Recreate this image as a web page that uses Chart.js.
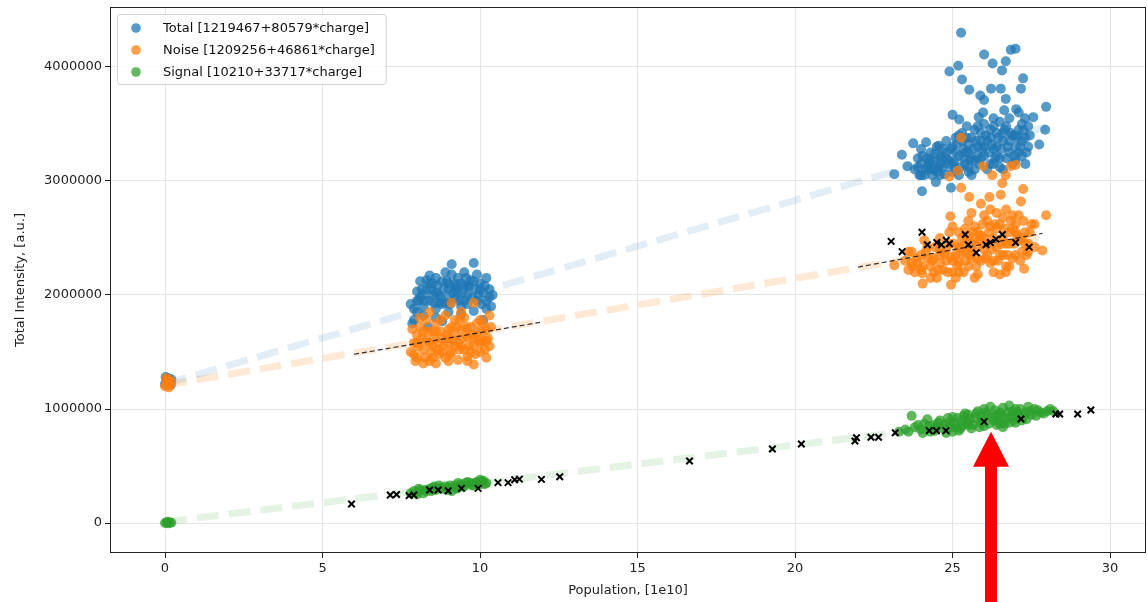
<!DOCTYPE html>
<html>
<head>
<meta charset="utf-8">
<script src="https://cdn.jsdelivr.net/npm/chart.js@4.4.1/dist/chart.umd.min.js"></script>
<style>
  html, body { margin: 0; padding: 0; background: #fff; }
</style>
</head>
<body>
<canvas id="canvas" width="1148" height="602"></canvas>
<script>
//textos de la leyenda (coeficientes del ajuste)
const legendLabels = [
    "Total [1219467+80579*charge]",
    "Noise [1209256+46861*charge]",
    "Signal [10210+33717*charge]"
];
const xTicks = [0, 5, 10, 15, 20, 25, 30];
const yTicks = [0, 1000000, 2000000, 3000000, 4000000];

//puntos [population, intensidad]
const totalPts = [
    [0,1.22e6],[0.05,1.25e6],[0.1,1.27e6],[0.15,1.23e6],[0.2,1.26e6],[0.02,1.28e6],[0.18,1.21e6],
    [7.9,1.78e6],[8.0,1.85e6],[7.8,1.92e6],[8.1,1.98e6],[8.2,1.9e6],[8.3,2.05e6],[8.4,1.95e6],[8.5,2.1e6],
    [8.6,1.88e6],[8.7,2.0e6],[8.8,2.12e6],[8.9,1.93e6],[9.0,2.05e6],[9.1,2.27e6],[9.2,1.97e6],[9.3,2.15e6],
    [9.4,1.9e6],[9.5,2.08e6],[9.6,2.0e6],[9.7,2.13e6],[9.8,2.28e6],[9.9,1.95e6],[10.0,2.1e6],[10.1,2.02e6],
    [10.2,1.88e6],[10.3,1.98e6],[8.2,1.82e6],[8.6,1.8e6],[9.0,1.85e6],[9.4,1.83e6],[9.8,1.86e6],[10.1,1.78e6],
    [8.0,2.03e6],[8.5,2.0e6],[9.2,2.1e6],[9.6,1.92e6],[10.4,2.0e6],[7.85,1.75e6],[8.35,1.72e6],[8.8,1.77e6],
    [9.3,2.02e6],[8.1,2.12e6],[9.0,1.98e6],[9.9,2.18e6],[10.2,2.15e6],[8.4,2.17e6],[8.7,1.93e6],
    [7.9,1.88e6],[8.05,1.95e6],[8.15,2.05e6],[8.25,1.95e6],[8.45,2.05e6],[8.55,1.93e6],[8.65,2.08e6],[8.75,1.98e6],
    [8.85,2.05e6],[8.95,2.12e6],[9.05,1.92e6],[9.15,2.02e6],[9.25,2.08e6],[9.35,1.95e6],[9.45,2.02e6],[9.55,2.15e6],
    [9.65,2.07e6],[9.75,1.98e6],[9.85,2.05e6],[9.95,2.0e6],[10.05,1.92e6],[10.15,2.08e6],[10.3,2.05e6],[8.3,2.13e6],
    [9.1,2.18e6],[9.5,1.95e6],[10.35,1.9e6],
    [8.0,1.95e6],[8.2,2.0e6],[8.4,2.1e6],[8.6,2.02e6],[8.8,1.92e6],[9.0,2.1e6],[9.2,2.05e6],[9.4,2.1e6],
    [9.6,2.08e6],[9.8,2.12e6],[10.0,2.05e6],[10.2,1.95e6],[8.9,2.2e6],[9.5,2.2e6],[8.6,2.15e6],
    [25.27,4.3e6],[26.0,4.11e6],[26.85,4.15e6],[27.0,4.16e6],[26.27,4.03e6],[26.69,4.05e6],[24.9,3.96e6],
    [25.18,4.01e6],[26.57,3.97e6],[25.3,3.89e6],[27.24,3.9e6],[25.53,3.8e6],[26.22,3.81e6],[26.53,3.81e6],
    [27.17,3.81e6],[25.88,3.75e6],[26.0,3.71e6],[26.69,3.72e6],[27.02,3.63e6],[27.97,3.65e6],[25.97,3.6e6],
    [25.0,3.58e6],[26.64,3.62e6],[27.56,3.56e6],[25.83,3.56e6],[25.21,3.54e6],[25.45,3.48e6],[27.94,3.45e6],
    [27.75,3.32e6],[23.75,3.33e6],[23.39,3.23e6],[23.15,3.06e6],[23.57,3.13e6],[24.03,2.91e6],[24.95,2.94e6],
    [24.16,3.34e6],[24.56,3.31e6],[27.31,3.15e6],[25.51,3.08e6],[24.47,2.99e6],
    [23.8,3.1e6],[24.0,3.15e6],[24.1,3.05e6],[24.2,3.2e6],[24.3,3.1e6],[24.4,3.17e6],[24.5,3.08e6],[24.6,3.22e6],
    [23.9,3.2e6],[24.3,3.25e6],[24.7,3.12e6],[24.8,3.25e6],[24.9,3.18e6],[25.0,3.3e6],[25.1,3.1e6],[25.2,3.22e6],
    [25.3,3.35e6],[25.4,3.15e6],[24.8,3.35e6],[25.0,3.08e6],[25.2,3.4e6],[25.5,3.25e6],[25.6,3.38e6],[25.7,3.18e6],
    [25.8,3.3e6],[25.9,3.42e6],[26.0,3.22e6],[26.1,3.35e6],[26.2,3.15e6],[25.5,3.12e6],[25.7,3.45e6],[26.0,3.5e6],
    [26.3,3.28e6],[26.4,3.42e6],[26.5,3.2e6],[26.6,3.35e6],[26.7,3.48e6],[26.8,3.25e6],[26.9,3.4e6],[27.0,3.3e6],
    [27.1,3.45e6],[27.2,3.22e6],[27.3,3.38e6],[26.5,3.52e6],[26.8,3.55e6],[26.3,3.15e6],[27.0,3.18e6],[26.6,3.1e6],
    [27.4,3.3e6],[25.35,3.28e6],[25.9,3.2e6],[26.4,3.3e6],[24.6,3.15e6],[25.1,3.25e6],[26.2,3.45e6],[27.2,3.5e6],
    [23.9,3.12e6],[24.05,3.22e6],[24.15,3.1e6],[24.25,3.16e6],[24.35,3.05e6],[24.45,3.24e6],[24.55,3.12e6],[24.65,3.2e6],
    [24.75,3.06e6],[24.85,3.15e6],[24.95,3.28e6],[25.05,3.17e6],[25.15,3.33e6],[25.25,3.12e6],[25.35,3.2e6],[25.45,3.38e6],
    [25.55,3.18e6],[25.65,3.28e6],[25.75,3.35e6],[25.85,3.15e6],[25.95,3.28e6],[26.05,3.4e6],[26.15,3.25e6],[26.25,3.32e6],
    [26.35,3.2e6],[26.45,3.38e6],[26.55,3.28e6],[26.65,3.45e6],[26.75,3.3e6],[26.85,3.42e6],[26.95,3.22e6],[27.05,3.38e6],
    [27.15,3.3e6],[27.25,3.44e6],[27.35,3.25e6],[27.45,3.4e6],[25.6,3.05e6],[26.1,3.1e6],[26.9,3.15e6],[25.3,3.42e6],
    [25.8,3.48e6],[26.3,3.55e6],[27.1,3.6e6],[24.5,3.3e6],[24.0,3.28e6],
    [24.0,3.05e6],[24.2,3.12e6],[24.4,3.1e6],[24.6,3.05e6],[24.8,3.2e6],[25.0,3.15e6],[25.2,3.05e6],[25.4,3.25e6],
    [25.6,3.2e6],[25.8,3.22e6],[26.0,3.3e6],[26.2,3.38e6],[26.4,3.22e6],[26.6,3.42e6],[26.8,3.35e6],[27.0,3.4e6],
    [27.2,3.35e6],[27.4,3.48e6],[25.1,3.38e6],[25.5,3.32e6],[25.9,3.35e6],[26.3,3.48e6],[26.7,3.2e6],[27.1,3.25e6],
    [24.3,3.18e6],[24.7,3.28e6],[25.7,3.1e6],[26.5,3.12e6],[23.95,3.05e6],[27.3,3.55e6]
];
const noisePts = [
    [0,1.2e6],[0.05,1.23e6],[0.1,1.26e6],[0.15,1.21e6],[0.2,1.24e6],[0.03,1.27e6],[0.12,1.19e6],
    [7.8,1.5e6],[7.9,1.58e6],[8.0,1.45e6],[8.0,1.65e6],[8.1,1.72e6],[8.2,1.52e6],[8.3,1.6e6],[8.3,1.78e6],
    [8.4,1.42e6],[8.5,1.55e6],[8.5,1.68e6],[8.6,1.75e6],[8.7,1.48e6],[8.8,1.62e6],[8.9,1.82e6],[8.9,1.45e6],
    [9.0,1.57e6],[9.0,1.7e6],[9.1,1.93e6],[9.1,1.5e6],[9.2,1.65e6],[9.2,1.78e6],[9.3,1.43e6],[9.3,1.58e6],
    [9.4,1.7e6],[9.5,1.52e6],[9.5,1.8e6],[9.6,1.63e6],[9.6,1.46e6],[9.7,1.72e6],[9.8,1.93e6],[9.8,1.39e6],
    [9.8,1.56e6],[9.9,1.67e6],[10.0,1.5e6],[10.0,1.78e6],[10.1,1.6e6],[10.2,1.45e6],[10.2,1.7e6],[10.3,1.55e6],
    [8.2,1.4e6],[8.6,1.4e6],[7.85,1.7e6],[8.4,1.85e6],[9.4,1.85e6],[10.3,1.82e6],[8.7,1.58e6],[9.0,1.42e6],
    [7.9,1.48e6],[8.05,1.55e6],[8.15,1.62e6],[8.25,1.45e6],[8.35,1.68e6],[8.45,1.5e6],[8.55,1.62e6],[8.65,1.52e6],
    [8.75,1.68e6],[8.85,1.55e6],[8.95,1.65e6],[9.05,1.48e6],[9.15,1.6e6],[9.25,1.72e6],[9.35,1.52e6],[9.45,1.62e6],
    [9.55,1.72e6],[9.65,1.55e6],[9.75,1.65e6],[9.85,1.48e6],[9.95,1.6e6],[10.05,1.68e6],[10.15,1.52e6],[10.25,1.62e6],
    [8.1,1.8e6],[8.75,1.78e6],[9.35,1.78e6],[9.9,1.75e6],[10.35,1.72e6],[7.95,1.42e6],[9.6,1.42e6],
    [8.0,1.58e6],[8.2,1.68e6],[8.4,1.58e6],[8.6,1.68e6],[8.8,1.5e6],[9.0,1.62e6],[9.2,1.55e6],[9.4,1.55e6],
    [9.6,1.7e6],[9.8,1.62e6],[10.0,1.58e6],[10.2,1.6e6],[8.5,1.45e6],[9.1,1.72e6],[9.7,1.5e6],[10.1,1.75e6],
    [25.27,3.38e6],[25.16,3.09e6],[24.9,3.04e6],[25.97,3.13e6],[26.26,3.05e6],[26.85,3.13e6],[27.0,3.14e6],
    [26.69,3.05e6],[26.58,2.98e6],[27.24,2.93e6],[25.27,2.94e6],
    [25.53,2.86e6],[26.17,2.86e6],[26.53,2.88e6],[25.9,2.8e6],[27.17,2.82e6],[27.97,2.7e6],[27.6,2.62e6],
    [24.93,2.69e6],[24.95,2.09e6],[24.05,2.1e6],[23.15,2.26e6],[23.73,2.25e6],[24.03,2.19e6],[26.69,2.2e6],
    [27.27,2.23e6],[27.85,2.39e6],[27.6,2.42e6],
    [23.5,2.3e6],[23.7,2.38e6],[23.9,2.28e6],[24.0,2.35e6],[24.2,2.42e6],[24.3,2.25e6],[24.4,2.32e6],[24.6,2.4e6],
    [24.7,2.22e6],[24.8,2.3e6],[24.9,2.45e6],[25.0,2.2e6],[25.1,2.35e6],[25.2,2.28e6],[25.3,2.5e6],[25.4,2.38e6],
    [25.5,2.25e6],[25.6,2.45e6],[25.7,2.6e6],[25.8,2.32e6],[25.9,2.52e6],[26.0,2.4e6],[26.1,2.65e6],[26.2,2.28e6],
    [26.3,2.5e6],[26.4,2.58e6],[26.5,2.35e6],[26.6,2.68e6],[26.7,2.45e6],[26.8,2.55e6],[26.9,2.32e6],[27.0,2.62e6],
    [27.1,2.48e6],[27.2,2.38e6],[27.3,2.55e6],[25.0,2.6e6],[25.5,2.65e6],[26.0,2.7e6],[26.4,2.72e6],[25.8,2.18e6],
    [26.3,2.2e6],[24.5,2.15e6],[23.8,2.2e6],[27.4,2.45e6],[26.9,2.7e6],[25.2,2.42e6],[24.1,2.48e6],[25.6,2.32e6],
    [26.8,2.25e6],[25.4,2.58e6],[26.1,2.45e6],[26.6,2.5e6],[24.6,2.28e6],[25.8,2.42e6],[27.0,2.35e6],
    [23.6,2.22e6],[23.85,2.32e6],[24.05,2.25e6],[24.15,2.38e6],[24.35,2.3e6],[24.45,2.42e6],[24.55,2.22e6],[24.75,2.36e6],
    [24.85,2.2e6],[24.95,2.33e6],[25.05,2.45e6],[25.15,2.26e6],[25.25,2.36e6],[25.35,2.2e6],[25.45,2.48e6],[25.55,2.35e6],
    [25.65,2.55e6],[25.75,2.25e6],[25.85,2.48e6],[25.95,2.62e6],[26.05,2.32e6],[26.15,2.55e6],[26.25,2.4e6],[26.35,2.62e6],
    [26.45,2.3e6],[26.55,2.45e6],[26.65,2.58e6],[26.75,2.35e6],[26.85,2.65e6],[26.95,2.45e6],[27.05,2.52e6],[27.15,2.3e6],
    [27.25,2.65e6],[27.35,2.35e6],[27.45,2.55e6],[25.2,2.55e6],[25.6,2.72e6],[26.2,2.75e6],[26.7,2.75e6],[25.1,2.15e6],
    [25.7,2.15e6],[26.5,2.18e6],[24.3,2.15e6],[27.1,2.7e6],[27.5,2.62e6],[24.6,2.5e6],[23.6,2.38e6],
    [23.7,2.28e6],[24.0,2.22e6],[24.2,2.32e6],[24.4,2.2e6],[24.6,2.35e6],[24.8,2.4e6],[25.0,2.3e6],[25.2,2.2e6],
    [25.4,2.3e6],[25.6,2.4e6],[25.8,2.55e6],[26.0,2.5e6],[26.2,2.6e6],[26.4,2.42e6],[26.6,2.35e6],[26.8,2.45e6],
    [27.0,2.55e6],[27.2,2.5e6],[27.4,2.38e6],[25.3,2.42e6],[25.7,2.48e6],[26.1,2.35e6],[26.5,2.62e6],[26.9,2.58e6],
    [27.3,2.45e6],[25.9,2.3e6],[26.7,2.25e6],[24.9,2.55e6],[25.5,2.52e6],[26.3,2.3e6]
];
const signalPts = [
    [0,0],[0.05,0.005e6],[0.1,-0.003e6],[0.15,0.004e6],[0.2,0.002e6],[0.08,0.01e6],
    [7.8,0.26e6],[8.0,0.27e6],[8.1,0.29e6],[8.3,0.28e6],[8.4,0.3e6],[8.5,0.31e6],[8.6,0.29e6],[8.8,0.3e6],
    [8.9,0.32e6],[9.0,0.31e6],[9.2,0.33e6],[9.3,0.31e6],[9.4,0.34e6],[9.5,0.32e6],[9.7,0.35e6],[9.8,0.33e6],
    [9.9,0.36e6],[10.0,0.34e6],[10.1,0.37e6],[10.2,0.35e6],[8.2,0.26e6],[8.7,0.33e6],[9.1,0.28e6],[9.6,0.36e6],
    [10.0,0.38e6],[8.0,0.25e6],[9.3,0.35e6],
    [7.9,0.28e6],[8.05,0.3e6],[8.25,0.29e6],[8.45,0.28e6],[8.55,0.32e6],[8.75,0.31e6],[8.95,0.29e6],[9.05,0.33e6],
    [9.25,0.3e6],[9.45,0.32e6],[9.55,0.35e6],[9.75,0.33e6],[9.85,0.35e6],[10.05,0.36e6],[10.15,0.34e6],
    [23.3,0.8e6],[23.5,0.82e6],[23.7,0.94e6],[23.8,0.84e6],[24.0,0.82e6],[24.1,0.87e6],[24.3,0.8e6],[24.4,0.86e6],
    [24.6,0.9e6],[24.7,0.83e6],[24.8,0.79e6],[24.9,0.88e6],[25.0,0.93e6],[25.1,0.84e6],[25.2,0.81e6],[25.3,0.9e6],
    [25.4,0.96e6],[25.5,0.86e6],[25.6,0.83e6],[25.7,0.92e6],[25.8,0.98e6],[25.9,0.88e6],[26.0,0.85e6],[26.1,0.95e6],
    [26.2,1.02e6],[26.3,0.9e6],[26.4,0.86e6],[26.5,0.97e6],[26.6,1.01e6],[26.7,0.92e6],[26.8,0.88e6],[26.9,0.98e6],
    [27.0,1.0e6],[27.1,0.93e6],[27.2,0.9e6],[27.3,0.97e6],[27.5,0.95e6],[27.6,1.0e6],[27.8,0.97e6],[28.0,0.98e6],
    [28.1,1.0e6],[26.0,1.0e6],[25.5,0.95e6],[24.5,0.84e6],[27.4,1.02e6],[26.8,1.03e6],[24.2,0.91e6],[25.0,0.8e6],
    [26.5,0.87e6],[25.3,0.85e6],[25.9,0.93e6],[26.4,0.95e6],[27.0,0.94e6],
    [23.6,0.8e6],[23.9,0.86e6],[24.05,0.79e6],[24.25,0.85e6],[24.45,0.81e6],[24.55,0.88e6],[24.75,0.86e6],[24.85,0.92e6],
    [24.95,0.84e6],[25.05,0.88e6],[25.15,0.92e6],[25.25,0.83e6],[25.35,0.94e6],[25.45,0.88e6],[25.55,0.91e6],[25.65,0.86e6],
    [25.75,0.96e6],[25.85,0.84e6],[25.95,0.9e6],[26.05,0.97e6],[26.15,0.87e6],[26.25,0.93e6],[26.35,0.99e6],[26.45,0.9e6],
    [26.55,0.94e6],[26.65,0.87e6],[26.75,0.97e6],[26.85,0.93e6],[26.95,0.9e6],[27.05,0.97e6],[27.15,1.0e6],[27.25,0.94e6],
    [27.35,0.91e6],[27.45,0.98e6],[27.65,0.94e6],[27.7,0.99e6],[27.9,0.96e6],[28.2,0.98e6],[26.6,0.84e6],[27.0,0.88e6]
];
//cruces negras (puntos de la simulacion)
const signalCross = [
    [5.92,0.167e6],[7.15,0.245e6],[7.35,0.25e6],[7.75,0.24e6],[7.9,0.245e6],[8.4,0.29e6],[8.67,0.29e6],
    [8.99,0.283e6],[9.41,0.304e6],[9.94,0.304e6],[10.57,0.354e6],[10.89,0.354e6],[11.1,0.38e6],[11.25,0.385e6],
    [11.95,0.383e6],[12.53,0.406e6],[16.65,0.544e6],[19.28,0.649e6],[20.2,0.693e6],[21.9,0.72e6],[21.95,0.748e6],
    [22.41,0.752e6],[22.65,0.752e6],[23.18,0.792e6],[24.26,0.81e6],[24.49,0.81e6],[24.79,0.81e6],[26.0,0.889e6],
    [27.17,0.912e6],[28.28,0.956e6],[28.4,0.956e6],[28.97,0.956e6],[29.39,0.991e6]
];
const noiseCross = [
    [23.05,2.47e6],[23.4,2.38e6],[24.03,2.55e6],[24.2,2.44e6],[24.5,2.46e6],[24.65,2.44e6],[24.8,2.48e6],
    [24.9,2.45e6],[25.4,2.53e6],[25.5,2.44e6],[25.75,2.37e6],[26.06,2.44e6],[26.2,2.46e6],[26.38,2.49e6],
    [26.58,2.53e6],[27.0,2.46e6],[27.43,2.42e6]
];
//rectas de ajuste [x inicio, y inicio, x fin, y fin]
const totalFit = [0, 1219467, 28, 3475679];
const noiseFit = [0, 1209256, 28, 2521364];
const signalFit = [0, 10210, 28, 954286];
const simFit1 = [6, 1.48e6, 11.9, 1.76e6];
const simFit2 = [22, 2.245e6, 27.85, 2.54e6];
//donde apunta la flecha roja
const arrowAt = [26.22, 0.8e6];

const pts = (arr) => arr.map(p => ({x: p[0], y: p[1]}));
const seg = (s) => [{x: s[0], y: s[1]}, {x: s[2], y: s[3]}];

const circulo = (label, data, color, order) => ({
    label: label, data: pts(data), order: order, enLeyenda: true,
    backgroundColor: color, borderWidth: 0, pointRadius: 5, pointStyle: 'circle'
});
const cruz = (data) => ({
    label: '', data: pts(data), order: 1,
    borderColor: '#000', backgroundColor: '#000', borderWidth: 2, pointRadius: 4.6, pointStyle: 'crossRot'
});
const recta = (s, color, width, dash, order) => ({
    label: '', data: seg(s), order: order, showLine: true, pointRadius: 0,
    borderColor: color, borderWidth: width, borderDash: dash, borderCapStyle: 'butt'
});

//marco, leyenda dentro del grafico y flecha roja
const extras = {
    id: 'extras',
    afterDraw(chart) {
        const ctx = chart.ctx;
        const a = chart.chartArea;
        const xs = chart.scales.x, ys = chart.scales.y;
        ctx.save();
        ctx.strokeStyle = '#222';
        ctx.lineWidth = 1;
        ctx.strokeRect(a.left + 0.5, a.top + 0.5, a.right - a.left - 1, a.bottom - a.top - 1);

        //leyenda, en el mismo orden que legendLabels
        const ds = legendLabels.map(l => chart.data.datasets.find(d => d.label === l));
        ctx.font = '13px "DejaVu Sans"';
        let maxW = 0;
        ds.forEach(d => { maxW = Math.max(maxW, ctx.measureText(d.label).width); });
        const bx = a.left + 7, by = a.top + 7, bw = 46 + maxW + 11, bh = 70;
        ctx.beginPath();
        ctx.roundRect(bx + 0.5, by + 0.5, bw, bh, 3);
        ctx.fillStyle = 'rgba(255,255,255,0.85)';
        ctx.fill();
        ctx.strokeStyle = '#d3d3d3';
        ctx.stroke();
        ds.forEach((d, i) => {
            const cy = by + 14 + i * 22;
            ctx.beginPath();
            ctx.arc(bx + 19, cy, 4.8, 0, Math.PI * 2);
            ctx.fillStyle = d.backgroundColor;
            ctx.fill();
            ctx.fillStyle = '#111';
            ctx.textBaseline = 'middle';
            ctx.fillText(d.label, bx + 46, cy + 1);
        });

        //flecha roja
        const tx = xs.getPixelForValue(arrowAt[0]);
        const ty = ys.getPixelForValue(arrowAt[1]);
        ctx.fillStyle = '#ff0000';
        ctx.beginPath();
        ctx.moveTo(tx, ty);
        ctx.lineTo(tx + 18, ty + 35);
        ctx.lineTo(tx + 6, ty + 35);
        ctx.lineTo(tx + 6, chart.height);
        ctx.lineTo(tx - 6, chart.height);
        ctx.lineTo(tx - 6, ty + 35);
        ctx.lineTo(tx - 18, ty + 35);
        ctx.closePath();
        ctx.fill();
        ctx.restore();
    }
};

const fuente = {family: '"DejaVu Sans"', size: 13};

new Chart(document.getElementById('canvas').getContext('2d'), {
    type: 'scatter',
    data: {
        datasets: [
            recta(simFit1, 'rgba(0,0,0,0.8)', 1.2, [5, 3], 0),
            recta(simFit2, 'rgba(0,0,0,0.8)', 1.2, [5, 3], 0),
            cruz(signalCross),
            cruz(noiseCross),
            circulo(legendLabels[2], signalPts, 'rgba(44,160,44,0.75)', 2),
            circulo(legendLabels[1], noisePts, 'rgba(255,127,14,0.75)', 3),
            circulo(legendLabels[0], totalPts, 'rgba(31,119,180,0.75)', 4),
            recta(totalFit, 'rgba(31,119,180,0.13)', 7, [22, 10], 5),
            recta(noiseFit, 'rgba(255,127,14,0.18)', 7, [22, 10], 5),
            recta(signalFit, 'rgba(44,160,44,0.13)', 7, [22, 10], 5)
        ]
    },
    options: {
        responsive: false,
        animation: false,
        events: [],
        layout: {autoPadding: false, padding: {top: 7, right: 2, left: 0, bottom: 0}},
        plugins: {legend: {display: false}, tooltip: {enabled: false}},
        scales: {
            x: {
                type: 'linear', min: -1.746, max: 31.14,
                afterBuildTicks: (s) => { s.ticks = xTicks.map(v => ({value: v})); },
                afterFit: (s) => { s.height = 49; s.paddingLeft = 0; s.paddingRight = 0; },
                grid: {color: '#e4e4e4', tickColor: '#222', tickLength: 5},
                border: {display: false},
                ticks: {color: '#222', font: fuente, padding: 3, maxRotation: 0},
                title: {display: true, text: 'Population, [1e10]', color: '#222', font: fuente, padding: {top: 2, bottom: 4}}
            },
            y: {
                type: 'linear', min: -263000, max: 4526000,
                afterBuildTicks: (s) => { s.ticks = yTicks.map(v => ({value: v})); },
                afterFit: (s) => { s.width = 110; s.paddingTop = 0; s.paddingBottom = 0; },
                grid: {color: '#e4e4e4', tickColor: '#222', tickLength: 5},
                border: {display: false},
                ticks: {color: '#222', font: fuente, padding: 3, callback: (v) => String(v)},
                title: {display: true, text: 'Total Intensity, [a.u.]', color: '#222', font: fuente, padding: {top: 13, bottom: 0}}
            }
        }
    },
    plugins: [extras]
});
</script>
</body>
</html>
